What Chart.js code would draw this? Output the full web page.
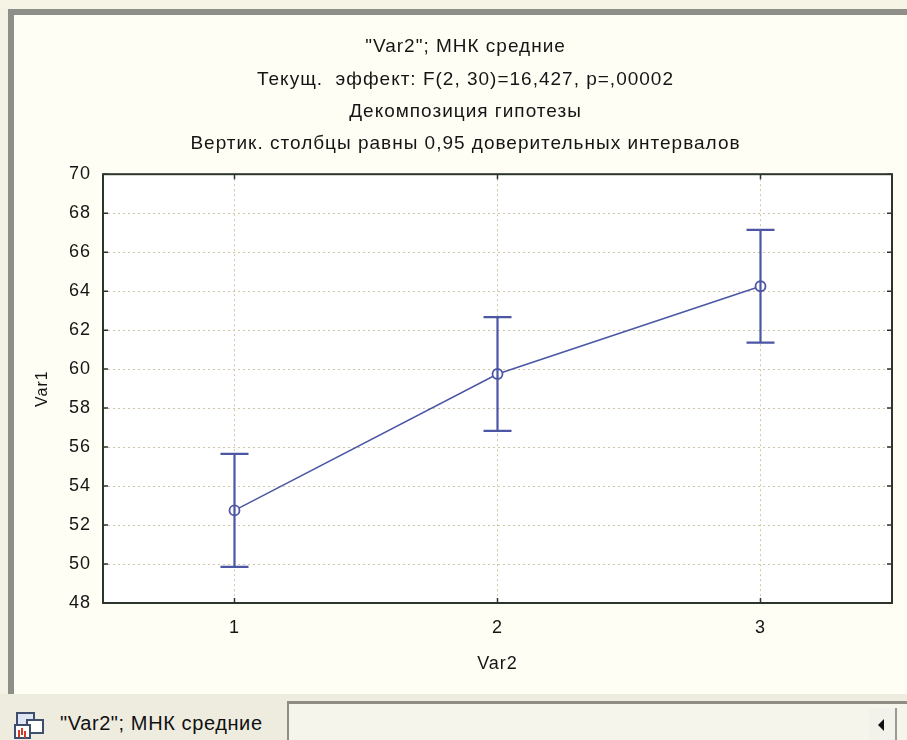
<!DOCTYPE html>
<html>
<head>
<meta charset="utf-8">
<script src="https://cdn.jsdelivr.net/npm/chart.js@4.4.1/dist/chart.umd.min.js"></script>
<style>
  body { margin: 0; width: 907px; height: 740px; overflow: hidden; background: #f4f2e4; position: relative; font-family: "Liberation Sans", Arial, sans-serif; }
  #topStrip { position: absolute; left: 0; top: 0; width: 907px; height: 9px; background: #f6f4e4; }
  #win { position: absolute; left: 8px; top: 9px; width: 920px; height: 685px; background: #fefef5;
         border-top: 6px solid #8e8f88; border-left: 6px solid #8e8f88; box-sizing: border-box; }
  #canvasBox { position: absolute; left: 15px; top: 16px; width: 892px; height: 677px; }
  #tabBar { position: absolute; left: 0; top: 694px; width: 907px; height: 46px; background: #eeecdf; }
  #tabText { position: absolute; left: 60px; top: 18px; font-size: 20px; color: #111; letter-spacing: 0.6px; }
  #scrollBox { position: absolute; left: 287px; top: 7px; width: 640px; height: 45px; border-top: 3px solid #8d8d86; border-left: 2px solid #8d8d86; background: #f6f5ec; box-sizing: border-box; }
  #arrowBtn { position: absolute; left: 869px; top: 14px; width: 26px; height: 32px; background: #f3f2ea; border-right: 2px solid #9a9a94; }
  #arrowBtn:after { content: ""; position: absolute; left: 9px; top: 11px; border-top: 6px solid transparent; border-bottom: 6px solid transparent; border-right: 6px solid #111; }
  #icon { position: absolute; left: 14px; top: 18px; width: 30px; height: 26px; }
  #icon .a { position: absolute; left: 2px; top: 0; width: 15px; height: 11px; border: 2px solid #3f4d6e; background: #dfe6f3; }
  #icon .b { position: absolute; left: 12px; top: 7px; width: 14px; height: 11px; border: 2px solid #3f4d6e; background: #ffffff; }
  #icon .c { position: absolute; left: 0; top: 12px; width: 13px; height: 11px; border: 2px solid #3f4d6e; background: #fff; }
  #icon .c:after { content: ""; position: absolute; left: 2px; top: 4px; width: 2px; height: 7px; background: #d23a2a; box-shadow: 3px -2px 0 #d23a2a, 6px 1px 0 #d23a2a; }
</style>
</head>
<body>
<div id="topStrip"></div>
<div id="win"></div>
<div id="canvasBox"><canvas id="chart" width="892" height="677"></canvas></div>
<div id="tabBar">
  <div id="icon"><div class="a"></div><div class="b"></div><div class="c"></div></div>
  <div id="tabText">"Var2"; МНК средние</div>
  <div id="scrollBox"></div>
  <div id="arrowBtn"></div>
</div>
<script>
// данные: средние МНК и полуширина 0,95 доверительного интервала
const groups = ['1', '2', '3'];
const means = [52.75, 59.75, 64.25];
const ciHalf = [2.9, 2.92, 2.89];
const yTicks = [48, 50, 52, 54, 56, 58, 60, 62, 64, 66, 68, 70];
const titleLines = [
    '"Var2"; МНК средние',
    'Текущ.  эффект: F(2, 30)=16,427, p=,00002',
    'Декомпозиция гипотезы',
    'Вертик. столбцы равны 0,95 доверительных интервалов'
];

const lineColor = '#4b57a4';
const fontName = '"Liberation Sans", Arial, sans-serif';

// вертикальные столбцы (доверительные интервалы)
const errorBars = {
    id: 'errorBars',
    afterDatasetsDraw(chart) {
        const ctx = chart.ctx;
        const x = chart.scales.x;
        const y = chart.scales.y;
        ctx.save();
        ctx.strokeStyle = lineColor;
        ctx.lineWidth = 2.2;
        means.forEach((m, i) => {
            const px = x.getPixelForValue(i);
            const top = y.getPixelForValue(m + ciHalf[i]);
            const bot = y.getPixelForValue(m - ciHalf[i]);
            ctx.beginPath();
            ctx.moveTo(px, top); ctx.lineTo(px, bot);
            ctx.moveTo(px - 14, top); ctx.lineTo(px + 14, top);
            ctx.moveTo(px - 14, bot); ctx.lineTo(px + 14, bot);
            ctx.stroke();
        });
        ctx.restore();
    }
};

// рамка графика и внутренние риски
const frame = {
    id: 'frame',
    beforeDraw(chart) {
        const a = chart.chartArea;
        chart.ctx.letterSpacing = '1px';
        chart.ctx.save();
        chart.ctx.fillStyle = '#ffffff';
        chart.ctx.fillRect(a.left, a.top, a.right - a.left, a.bottom - a.top);
        chart.ctx.restore();
    },
    afterDraw(chart) {
        const ctx = chart.ctx;
        const a = chart.chartArea;
        const x = chart.scales.x;
        const y = chart.scales.y;
        ctx.save();
        ctx.strokeStyle = '#2c352c';
        ctx.lineWidth = 1.5;
        ctx.beginPath();
        y.ticks.forEach((t, i) => {
            const py = y.getPixelForTick(i);
            ctx.moveTo(a.left, py); ctx.lineTo(a.left + 5, py);
            ctx.moveTo(a.right, py); ctx.lineTo(a.right - 5, py);
        });
        x.ticks.forEach((t, i) => {
            const px = x.getPixelForValue(i);
            ctx.moveTo(px, a.bottom); ctx.lineTo(px, a.bottom - 5);
            ctx.moveTo(px, a.top); ctx.lineTo(px, a.top + 5);
        });
        ctx.stroke();
        ctx.lineWidth = 2;
        ctx.strokeRect(a.left, a.top, a.right - a.left, a.bottom - a.top);
        ctx.restore();
    }
};

new Chart(document.getElementById('chart'), {
    type: 'line',
    data: {
        labels: groups,
        datasets: [{
            data: means,
            borderColor: lineColor,
            borderWidth: 1.5,
            pointRadius: 5,
            pointBorderWidth: 1.8,
            pointBackgroundColor: '#ffffff',
            pointBorderColor: lineColor,
            tension: 0
        }]
    },
    options: {
        responsive: false,
        animation: false,
        devicePixelRatio: 1,
        layout: { padding: { left: 24, right: 15, top: 0, bottom: 0 } },
        plugins: {
            legend: { display: false },
            tooltip: { enabled: false },
            title: {
                display: true,
                text: titleLines,
                color: '#151515',
                font: { family: fontName, size: 19, weight: 'normal', lineHeight: 1.7 },
                padding: { top: 15, bottom: 14 }
            }
        },
        scales: {
            x: {
                type: 'category',
                offset: true,
                grid: { offset: false, color: '#cfc7a6', lineWidth: 1, drawTicks: false },
                border: { display: false, dash: [2, 3] },
                ticks: { color: '#151515', padding: 14, font: { family: fontName, size: 18 } },
                title: { display: true, text: 'Var2', color: '#151515', font: { family: fontName, size: 18 }, padding: { top: 0, bottom: 18 } },
                afterFit: scale => { scale.height = 90; }
            },
            y: {
                min: 48,
                max: 70,
                afterBuildTicks: scale => { scale.ticks = yTicks.map(v => ({ value: v })); },
                grid: { color: '#cfc7a6', lineWidth: 1, drawTicks: false },
                border: { display: false, dash: [2, 3] },
                ticks: { color: '#151515', padding: 12, font: { family: fontName, size: 18 } },
                title: { display: true, text: 'Var1', color: '#151515', font: { family: fontName, size: 16 }, padding: { top: -6, bottom: 0 } },
                afterFit: scale => { scale.width = 64; }
            }
        }
    },
    plugins: [frame, errorBars]
});
</script>
</body>
</html>
